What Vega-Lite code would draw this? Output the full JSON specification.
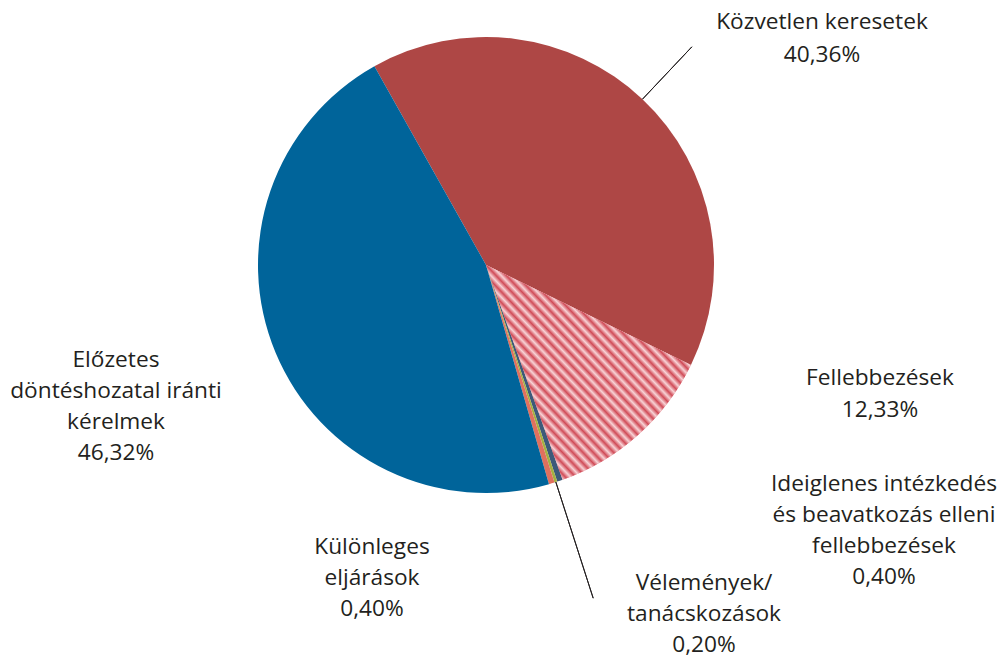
{
  "$schema": "https://vega.github.io/schema/vega-lite/v6.json",
  "width": 972,
  "height": 530,
  "autosize": {"type": "none"},
  "padding": {"left": 0, "top": 0, "right": 28, "bottom": 126},
  "background": "white",
  "config": {"view": {"stroke": null}},
  "data": {
    "values": [
      {"idx": 1, "cat": "Közvetlen keresetek", "value": 40.36, "label": "Közvetlen keresetek\n40,36%"},
      {"idx": 2, "cat": "Fellebbezések", "value": 12.33, "label": "Fellebbezések\n12,33%"},
      {"idx": 3, "cat": "Ideiglenes intézkedés és beavatkozás elleni fellebbezések", "value": 0.40, "label": "Ideiglenes intézkedés\nés beavatkozás elleni\nfellebbezések\n0,40%"},
      {"idx": 4, "cat": "Vélemények/tanácskozások", "value": 0.20, "label": "Vélemények/\ntanácskozások\n0,20%"},
      {"idx": 5, "cat": "Különleges eljárások", "value": 0.40, "label": "Különleges\neljárások\n0,40%"},
      {"idx": 6, "cat": "Előzetes döntéshozatal iránti kérelmek", "value": 46.32, "label": "Előzetes\ndöntéshozatal iránti\nkérelmek\n46,32%"}
    ]
  },
  "encoding": {
    "theta": {"field": "value", "type": "quantitative", "stack": true, "scale": {"range": [-0.5114, 5.7718]}},
    "order": {"field": "idx", "type": "quantitative"}
  },
  "layer": [
    {
      "mark": {"type": "arc", "outerRadius": 228},
      "encoding": {
        "color": {
          "field": "cat",
          "type": "nominal",
          "scale": {
            "domain": ["Közvetlen keresetek", "Fellebbezések", "Ideiglenes intézkedés és beavatkozás elleni fellebbezések", "Vélemények/tanácskozások", "Különleges eljárások", "Előzetes döntéshozatal iránti kérelmek"],
            "range": ["#AE4745", "#E6959B", "#3D5A7A", "#A5B041", "#E0705E", "#00649A"]
          },
          "legend": null
        }
      }
    },
    {
      "mark": {
        "type": "arc",
        "outerRadius": 228,
        "fill": {
          "gradient": "linear", "x1": 0, "y1": 1, "x2": 1, "y2": 0,
          "stops": [
            {"offset": 0, "color": "#D04B57"}, {"offset": 0.0125, "color": "#F8D3D6"},
            {"offset": 0.025, "color": "#D04B57"}, {"offset": 0.0375, "color": "#F8D3D6"},
            {"offset": 0.05, "color": "#D04B57"}, {"offset": 0.0625, "color": "#F8D3D6"},
            {"offset": 0.075, "color": "#D04B57"}, {"offset": 0.0875, "color": "#F8D3D6"},
            {"offset": 0.1, "color": "#D04B57"}, {"offset": 0.1125, "color": "#F8D3D6"},
            {"offset": 0.125, "color": "#D04B57"}, {"offset": 0.1375, "color": "#F8D3D6"},
            {"offset": 0.15, "color": "#D04B57"}, {"offset": 0.1625, "color": "#F8D3D6"},
            {"offset": 0.175, "color": "#D04B57"}, {"offset": 0.1875, "color": "#F8D3D6"},
            {"offset": 0.2, "color": "#D04B57"}, {"offset": 0.2125, "color": "#F8D3D6"},
            {"offset": 0.225, "color": "#D04B57"}, {"offset": 0.2375, "color": "#F8D3D6"},
            {"offset": 0.25, "color": "#D04B57"}, {"offset": 0.2625, "color": "#F8D3D6"},
            {"offset": 0.275, "color": "#D04B57"}, {"offset": 0.2875, "color": "#F8D3D6"},
            {"offset": 0.3, "color": "#D04B57"}, {"offset": 0.3125, "color": "#F8D3D6"},
            {"offset": 0.325, "color": "#D04B57"}, {"offset": 0.3375, "color": "#F8D3D6"},
            {"offset": 0.35, "color": "#D04B57"}, {"offset": 0.3625, "color": "#F8D3D6"},
            {"offset": 0.375, "color": "#D04B57"}, {"offset": 0.3875, "color": "#F8D3D6"},
            {"offset": 0.4, "color": "#D04B57"}, {"offset": 0.4125, "color": "#F8D3D6"},
            {"offset": 0.425, "color": "#D04B57"}, {"offset": 0.4375, "color": "#F8D3D6"},
            {"offset": 0.45, "color": "#D04B57"}, {"offset": 0.4625, "color": "#F8D3D6"},
            {"offset": 0.475, "color": "#D04B57"}, {"offset": 0.4875, "color": "#F8D3D6"},
            {"offset": 0.5, "color": "#D04B57"}, {"offset": 0.5125, "color": "#F8D3D6"},
            {"offset": 0.525, "color": "#D04B57"}, {"offset": 0.5375, "color": "#F8D3D6"},
            {"offset": 0.55, "color": "#D04B57"}, {"offset": 0.5625, "color": "#F8D3D6"},
            {"offset": 0.575, "color": "#D04B57"}, {"offset": 0.5875, "color": "#F8D3D6"},
            {"offset": 0.6, "color": "#D04B57"}, {"offset": 0.6125, "color": "#F8D3D6"},
            {"offset": 0.625, "color": "#D04B57"}, {"offset": 0.6375, "color": "#F8D3D6"},
            {"offset": 0.65, "color": "#D04B57"}, {"offset": 0.6625, "color": "#F8D3D6"},
            {"offset": 0.675, "color": "#D04B57"}, {"offset": 0.6875, "color": "#F8D3D6"},
            {"offset": 0.7, "color": "#D04B57"}, {"offset": 0.7125, "color": "#F8D3D6"},
            {"offset": 0.725, "color": "#D04B57"}, {"offset": 0.7375, "color": "#F8D3D6"},
            {"offset": 0.75, "color": "#D04B57"}, {"offset": 0.7625, "color": "#F8D3D6"},
            {"offset": 0.775, "color": "#D04B57"}, {"offset": 0.7875, "color": "#F8D3D6"},
            {"offset": 0.8, "color": "#D04B57"}, {"offset": 0.8125, "color": "#F8D3D6"},
            {"offset": 0.825, "color": "#D04B57"}, {"offset": 0.8375, "color": "#F8D3D6"},
            {"offset": 0.85, "color": "#D04B57"}, {"offset": 0.8625, "color": "#F8D3D6"},
            {"offset": 0.875, "color": "#D04B57"}, {"offset": 0.8875, "color": "#F8D3D6"},
            {"offset": 0.9, "color": "#D04B57"}, {"offset": 0.9125, "color": "#F8D3D6"},
            {"offset": 0.925, "color": "#D04B57"}, {"offset": 0.9375, "color": "#F8D3D6"},
            {"offset": 0.95, "color": "#D04B57"}, {"offset": 0.9625, "color": "#F8D3D6"},
            {"offset": 0.975, "color": "#D04B57"}, {"offset": 0.9875, "color": "#F8D3D6"},
            {"offset": 1, "color": "#D04B57"}
          ]
        }
      },
      "encoding": {
        "opacity": {"condition": {"test": "datum.cat === 'Fellebbezések'", "value": 1}, "value": 0}
      }
    },
    {
      "mark": {"type": "arc", "innerRadius": 228, "outerRadius": 300, "padAngle": 3, "stroke": "#231F20", "strokeWidth": 1, "fillOpacity": 0},
      "encoding": {
        "strokeOpacity": {"condition": {"test": "datum.cat === 'Közvetlen keresetek'", "value": 1}, "value": 0}
      }
    },
    {
      "mark": {"type": "arc", "innerRadius": 228, "outerRadius": 350, "padAngle": 3, "stroke": "#231F20", "strokeWidth": 1, "fillOpacity": 0},
      "encoding": {
        "strokeOpacity": {"condition": {"test": "datum.cat === 'Vélemények/tanácskozások'", "value": 1}, "value": 0}
      }
    },
    {
      "mark": {"type": "text", "radius": 0, "dx": 336, "dy": -243, "font": "Open Sans", "fontSize": 22.7, "lineHeight": 33, "lineBreak": "\n", "align": "center", "baseline": "middle", "color": "#231F20"},
      "encoding": {"text": {"condition": {"test": "datum.idx === 1", "field": "label", "type": "nominal"}, "value": ""}}
    },
    {
      "mark": {"type": "text", "radius": 0, "dx": 394, "dy": 113, "font": "Open Sans", "fontSize": 22.7, "lineHeight": 32, "lineBreak": "\n", "align": "center", "baseline": "middle", "color": "#231F20"},
      "encoding": {"text": {"condition": {"test": "datum.idx === 2", "field": "label", "type": "nominal"}, "value": ""}}
    },
    {
      "mark": {"type": "text", "radius": 0, "dx": 398, "dy": 219, "font": "Open Sans", "fontSize": 22.7, "lineHeight": 31, "lineBreak": "\n", "align": "center", "baseline": "middle", "color": "#231F20"},
      "encoding": {"text": {"condition": {"test": "datum.idx === 3", "field": "label", "type": "nominal"}, "value": ""}}
    },
    {
      "mark": {"type": "text", "radius": 0, "dx": 218, "dy": 318, "font": "Open Sans", "fontSize": 22.7, "lineHeight": 31, "lineBreak": "\n", "align": "center", "baseline": "middle", "color": "#231F20"},
      "encoding": {"text": {"condition": {"test": "datum.idx === 4", "field": "label", "type": "nominal"}, "value": ""}}
    },
    {
      "mark": {"type": "text", "radius": 0, "dx": -114, "dy": 282, "font": "Open Sans", "fontSize": 22.7, "lineHeight": 31, "lineBreak": "\n", "align": "center", "baseline": "middle", "color": "#231F20"},
      "encoding": {"text": {"condition": {"test": "datum.idx === 5", "field": "label", "type": "nominal"}, "value": ""}}
    },
    {
      "mark": {"type": "text", "radius": 0, "dx": -370, "dy": 95, "font": "Open Sans", "fontSize": 22.7, "lineHeight": 31, "lineBreak": "\n", "align": "center", "baseline": "middle", "color": "#231F20"},
      "encoding": {"text": {"condition": {"test": "datum.idx === 6", "field": "label", "type": "nominal"}, "value": ""}}
    }
  ]
}
